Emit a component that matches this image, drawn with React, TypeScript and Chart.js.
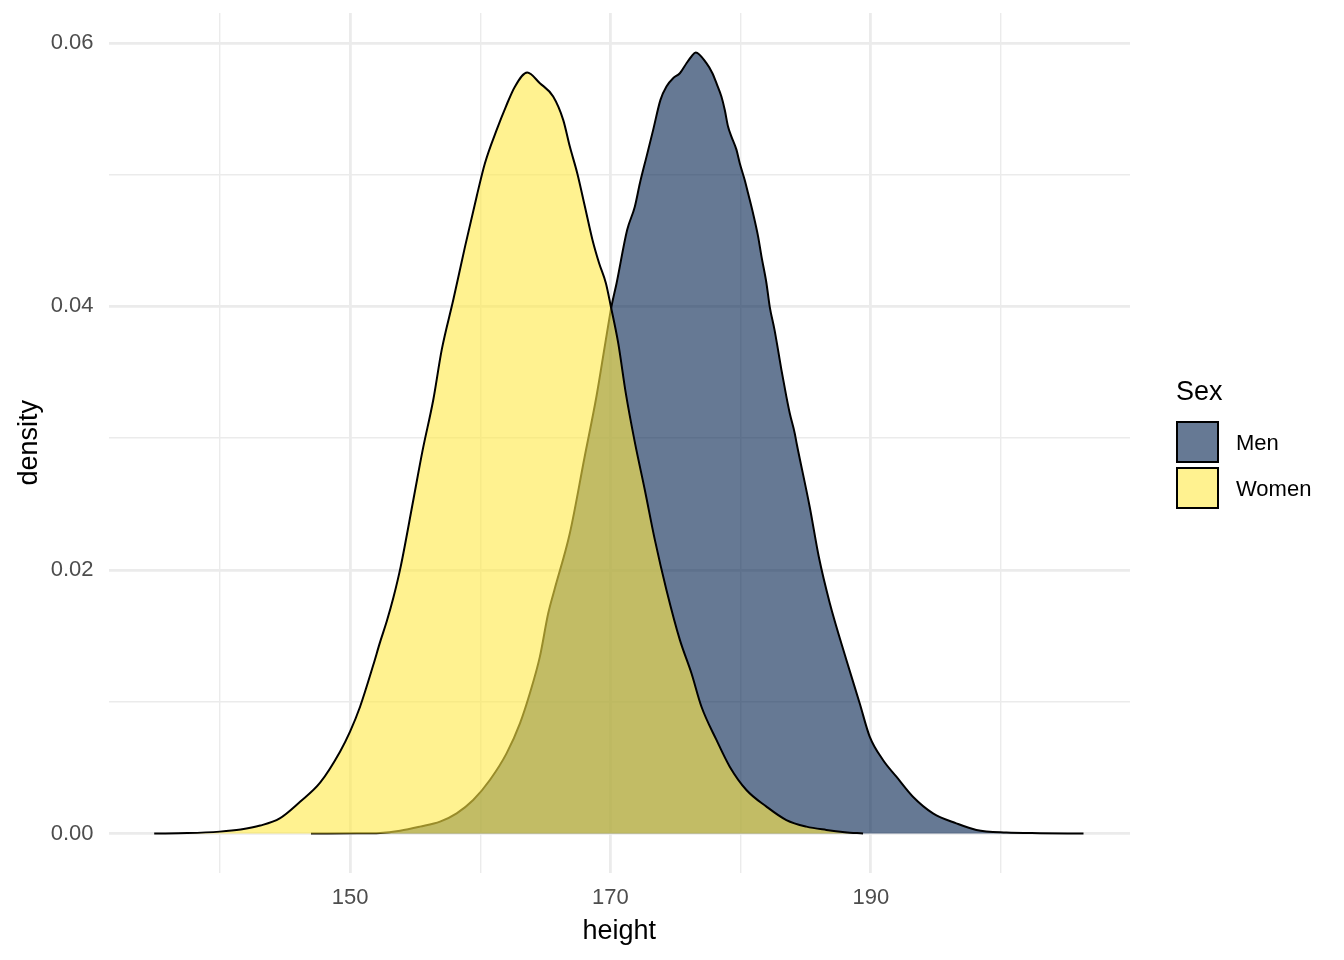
import React, { useEffect, useRef } from "react";
import { Chart, registerables } from "chart.js";

Chart.register(...registerables);

// ---- data ----
const womenHeights = [
  134.96, 137.5, 140.0, 141.6, 143.1, 144.6, 146.16, 147.7, 149.23, 150.0, 150.77, 151.79,
  152.3, 152.82, 153.33, 153.89, 154.86, 155.58, 156.39, 157.04, 157.93, 158.83, 159.72, 160.36,
  161.26, 161.97, 162.66, 163.61, 164.58, 165.6, 166.37, 166.88, 167.45, 168.04, 168.62, 169.13,
  169.65, 170.03, 170.6, 171.18, 171.87, 172.64, 173.41, 174.3, 175.33, 176.22, 176.99, 178.14,
  179.16, 180.44, 181.98, 183.51, 185.05, 186.58, 188.0, 189.4,
];
const womenDensity = [
  0.0, 0.00003, 0.00014, 0.0003, 0.0006, 0.00115, 0.00241, 0.00386, 0.00621, 0.00773, 0.00962, 0.0128,
  0.0145, 0.0161, 0.0179, 0.02025, 0.02531, 0.02911, 0.0329, 0.0367, 0.0405, 0.04454, 0.04833, 0.05087,
  0.0534, 0.05517, 0.05668, 0.05775, 0.05694, 0.05593, 0.05416, 0.05213, 0.05011, 0.04757, 0.04505, 0.04328,
  0.04176, 0.04, 0.0372, 0.0334, 0.0297, 0.02607, 0.02228, 0.01848, 0.01469, 0.01216, 0.00962, 0.0071,
  0.00507, 0.0033, 0.00204, 0.00102, 0.00052, 0.00027, 0.0001, 0.0,
];

const menHeights = [
  147.0, 150.5, 152.3, 153.84, 155.37, 156.91, 158.19, 159.46, 160.74, 162.02, 163.05, 163.81,
  164.58, 165.22, 165.7, 166.88, 168.0, 168.93, 169.6, 170.08, 170.47, 171.28, 171.87, 172.26,
  172.77, 173.28, 173.84, 174.3, 174.81, 175.33, 175.84, 176.22, 176.55, 177.37, 177.83, 178.14,
  178.52, 178.78, 179.03, 179.29, 179.68, 179.93, 180.31, 180.57, 180.95, 181.34, 181.6, 181.98,
  182.23, 182.6, 182.87, 183.13, 183.51, 183.77, 184.15, 184.3, 185.3, 186.0, 186.84, 188.12,
  189.14, 189.91, 190.93, 191.96, 193.23, 194.77, 196.56, 198.1, 200.4, 203.0, 206.33,
];
const menDensity = [
  0.0, 0.00001, 0.00004, 0.00021, 0.00052, 0.0009, 0.00153, 0.00254, 0.00406, 0.00608, 0.00836, 0.01064,
  0.01342, 0.01671, 0.0185, 0.02279, 0.0285, 0.0332, 0.0372, 0.04, 0.04176, 0.0458, 0.04757, 0.04935,
  0.05137, 0.0534, 0.05568, 0.05669, 0.05732, 0.0577, 0.05846, 0.05897, 0.05928, 0.05846, 0.0577, 0.05694,
  0.05593, 0.05491, 0.05365, 0.05289, 0.05188, 0.05087, 0.0496, 0.04859, 0.04707, 0.0453, 0.04378, 0.04176,
  0.03999, 0.03822, 0.0367, 0.03518, 0.03315, 0.03189, 0.03038, 0.0296, 0.0248, 0.021, 0.0175, 0.01317,
  0.00988, 0.00735, 0.00558, 0.00431, 0.00279, 0.00153, 0.00077, 0.00027, 0.00007, 0.00002, 0.0,
];

const seriesNames = ["Men", "Women"];
const legendTitle = "Sex";
const xTicks = [140, 150, 160, 170, 180, 190, 200];
const xMajor = [150, 170, 190];
const yTicks = [0, 0.01, 0.02, 0.03, 0.04, 0.05, 0.06];
const xTitle = "height";
const yTitle = "density";

const MEN_FILL = "rgba(0,32,77,0.6)";
const WOMEN_FILL = "rgba(255,234,70,0.6)";
const FONT = "'Liberation Sans', Arial, Helvetica, sans-serif";

const toPoints = (xs: number[], ys: number[]) => xs.map((x, i) => ({ x, y: ys[i] }));

const isMajorX = (v: number) => xMajor.some((m) => Math.abs(m - v) < 1e-6);
const isMajorY = (v: number) => Math.round(v * 100) % 2 === 0;

const legendPlugin = {
  id: "ggLegend",
  afterDraw(chart: any) {
    const ctx = chart.ctx;
    ctx.save();
    ctx.textBaseline = "middle";
    ctx.textAlign = "left";
    ctx.fillStyle = "#000000";
    ctx.font = `27px ${FONT}`;
    ctx.fillText(legendTitle, 1176, 393);
    const keys = [
      { label: seriesNames[0], fill: MEN_FILL, y: 421, ty: 444 },
      { label: seriesNames[1], fill: WOMEN_FILL, y: 467, ty: 490 },
    ];
    keys.forEach((k) => {
      ctx.fillStyle = k.fill;
      ctx.fillRect(1176, k.y, 43, 42);
      ctx.strokeStyle = "#000000";
      ctx.lineWidth = 2;
      ctx.strokeRect(1177, k.y + 1, 41, 40);
      ctx.fillStyle = "#000000";
      ctx.font = `22px ${FONT}`;
      ctx.fillText(k.label, 1236, k.ty);
    });
    ctx.restore();
  },
};

export default function App() {
  const canvasRef = useRef<HTMLCanvasElement | null>(null);

  useEffect(() => {
    const canvas = canvasRef.current;
    if (!canvas) return;
    const chart = new Chart(canvas, {
      type: "line",
      data: {
        datasets: [
          {
            label: seriesNames[1],
            data: toPoints(womenHeights, womenDensity),
            borderColor: "#000000",
            borderWidth: 2,
            backgroundColor: WOMEN_FILL,
            fill: "origin",
            pointRadius: 0,
            cubicInterpolationMode: "monotone",
          },
          {
            label: seriesNames[0],
            data: toPoints(menHeights, menDensity),
            borderColor: "#000000",
            borderWidth: 2,
            backgroundColor: MEN_FILL,
            fill: "origin",
            pointRadius: 0,
            cubicInterpolationMode: "monotone",
          },
        ],
      },
      options: {
        responsive: false,
        animation: false,
        devicePixelRatio: 1,
        layout: { padding: { left: 0, right: 214, top: 13, bottom: 0 } },
        plugins: {
          legend: { display: false },
          tooltip: { enabled: false },
        },
        scales: {
          x: {
            type: "linear",
            min: 131.45,
            max: 209.9,
            afterBuildTicks: (scale: any) => {
              scale.ticks = xTicks.map((v) => ({ value: v }));
            },
            afterFit: (scale: any) => {
              scale.height = 87.4;
              scale.paddingLeft = 0;
              scale.paddingRight = 0;
            },
            ticks: {
              autoSkip: false,
              maxRotation: 0,
              padding: 12,
              color: "#4D4D4D",
              font: { family: FONT, size: 22 },
              callback: (v: any) => (isMajorX(Number(v)) ? String(v) : ""),
            },
            grid: {
              drawTicks: false,
              color: "#EBEBEB",
              lineWidth: (c: any) => (c.tick && isMajorX(c.tick.value) ? 2.8 : 1.4),
            },
            border: { display: false },
            title: {
              display: true,
              text: xTitle,
              color: "#000000",
              font: { family: FONT, size: 27 },
              padding: { top: 0, bottom: 12 },
            },
          },
          y: {
            type: "linear",
            min: -0.00297,
            max: 0.06227,
            afterBuildTicks: (scale: any) => {
              scale.ticks = yTicks.map((v) => ({ value: v }));
            },
            afterFit: (scale: any) => {
              scale.width = 108.5;
              scale.paddingTop = 0;
              scale.paddingBottom = 0;
            },
            ticks: {
              autoSkip: false,
              padding: 15,
              color: "#4D4D4D",
              font: { family: FONT, size: 22 },
              callback: (v: any) => (isMajorY(Number(v)) ? Number(v).toFixed(2) : ""),
            },
            grid: {
              drawTicks: false,
              color: "#EBEBEB",
              lineWidth: (c: any) => (c.tick && isMajorY(c.tick.value) ? 2.8 : 1.4),
            },
            border: { display: false },
            title: {
              display: true,
              text: yTitle,
              color: "#000000",
              font: { family: FONT, size: 27 },
              padding: { top: 13, bottom: 0 },
            },
          },
        },
      },
      plugins: [legendPlugin],
    } as any);
    return () => chart.destroy();
  }, []);

  return (
    <div style={{ position: "fixed", left: 0, top: 0, width: 1344, height: 960, background: "#ffffff" }}>
      <canvas ref={canvasRef} width={1344} height={960} style={{ width: 1344, height: 960 }} />
    </div>
  );
}
